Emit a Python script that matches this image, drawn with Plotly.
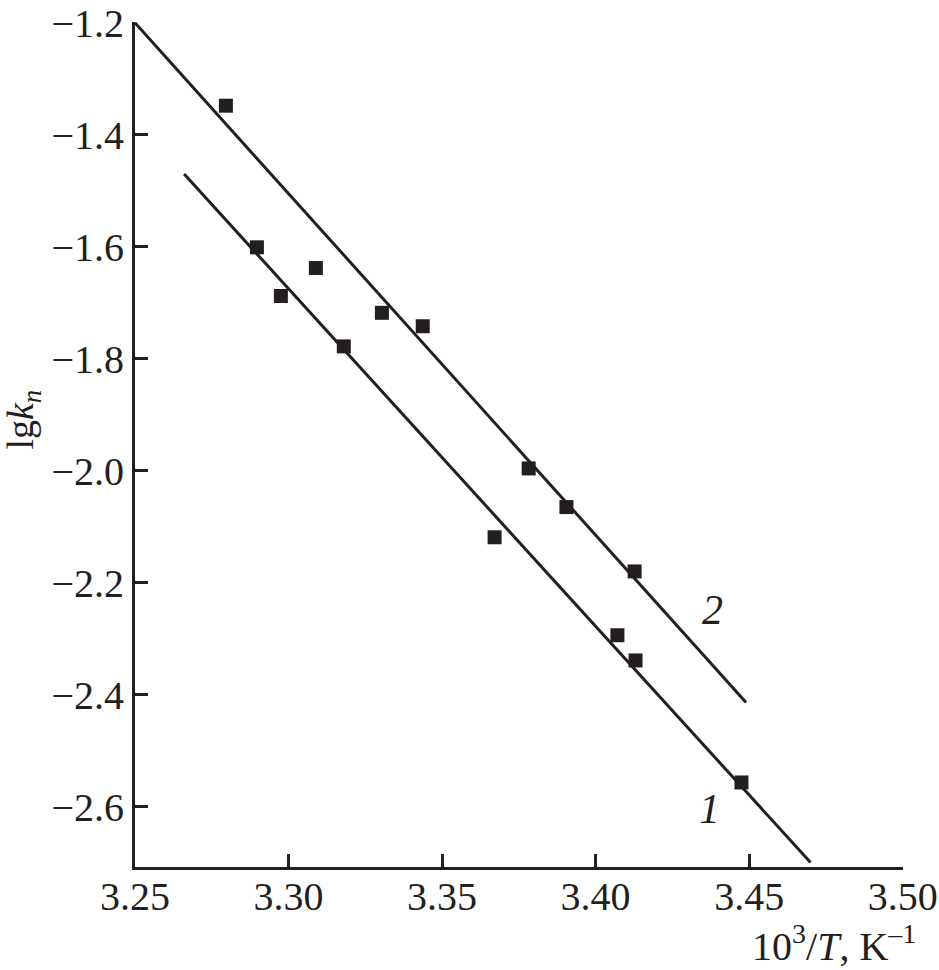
import plotly.graph_objects as go

# Series 2 (upper)
s2_x = [3.2796, 3.3089, 3.3304, 3.3437, 3.3782, 3.3905, 3.4127]
s2_y = [-1.348, -1.638, -1.718, -1.742, -1.996, -2.065, -2.180]
# Series 1 (lower)
s1_x = [3.2897, 3.2975, 3.3180, 3.3671, 3.4071, 3.4130, 3.4475]
s1_y = [-1.601, -1.688, -1.778, -2.119, -2.294, -2.339, -2.557]
# Fitted lines
fit1_x = [3.266, 3.470]
fit1_y = [-1.470, -2.700]
fit2_x = [3.250, 3.449]
fit2_y = [-1.200, -2.414]

x_ticks = [3.25, 3.30, 3.35, 3.40, 3.45, 3.50]
x_ticklabels = ["3.25", "3.30", "3.35", "3.40", "3.45", "3.50"]
y_ticks = [-1.2, -1.4, -1.6, -1.8, -2.0, -2.2, -2.4, -2.6]
y_ticklabels = ["\u22121.2", "\u22121.4", "\u22121.6", "\u22121.8", "\u22122.0", "\u22122.2", "\u22122.4", "\u22122.6"]

INK = "#231f20"
FONT = "Liberation Serif"

fig = go.Figure()
for fx, fy in [(fit1_x, fit1_y), (fit2_x, fit2_y)]:
    fig.add_trace(go.Scatter(x=fx, y=fy, mode="lines",
                             line=dict(color=INK, width=3), showlegend=False,
                             cliponaxis=False))
for sx, sy in [(s1_x, s1_y), (s2_x, s2_y)]:
    fig.add_trace(go.Scatter(x=sx, y=sy, mode="markers",
                             marker=dict(symbol="square", size=14, color=INK,
                                         line=dict(width=0)),
                             showlegend=False))

fig.add_annotation(x=3.438, y=-2.2496, text="<i>2</i>", showarrow=False,
                   font=dict(family=FONT, size=42, color=INK))
fig.add_annotation(x=3.437, y=-2.6036, text="<i>1</i>", showarrow=False,
                   font=dict(family=FONT, size=42, color=INK))

fig.add_annotation(xref="paper", yref="paper", x=1.0195, y=-0.0904,
                   xanchor="right", yanchor="middle",
                   text="10<sup>3</sup>/<i>T</i>, K<sup>\u20131</sup>", showarrow=False,
                   font=dict(family=FONT, size=40, color=INK))
fig.add_annotation(xref="paper", yref="paper", x=-0.1458, y=0.5295,
                   xanchor="center", yanchor="middle", textangle=-90,
                   text="lg<i>k<sub>n</sub></i>", showarrow=False,
                   font=dict(family=FONT, size=38, color=INK))

axis_common = dict(showline=True, linewidth=3, linecolor=INK, ticks="inside",
                   ticklen=13, tickwidth=3, tickcolor=INK, showgrid=False,
                   zeroline=False, automargin=False,
                   tickfont=dict(family=FONT, size=40, color=INK))

fig.update_layout(
    width=939, height=970,
    margin=dict(l=135, r=36, t=22, b=103),
    paper_bgcolor="white", plot_bgcolor="white",
    xaxis=dict(range=[3.25, 3.5001], tickvals=x_ticks, ticktext=x_ticklabels,
               ticklabelstandoff=-8, **axis_common),
    yaxis=dict(range=[-2.708, -1.1985], tickvals=y_ticks, ticktext=y_ticklabels,
               **axis_common),
)
fig.write_html("out.html", config={"displayModeBar": False},
               post_script="document.body.style.margin='0';document.body.style.overflow='hidden';")
